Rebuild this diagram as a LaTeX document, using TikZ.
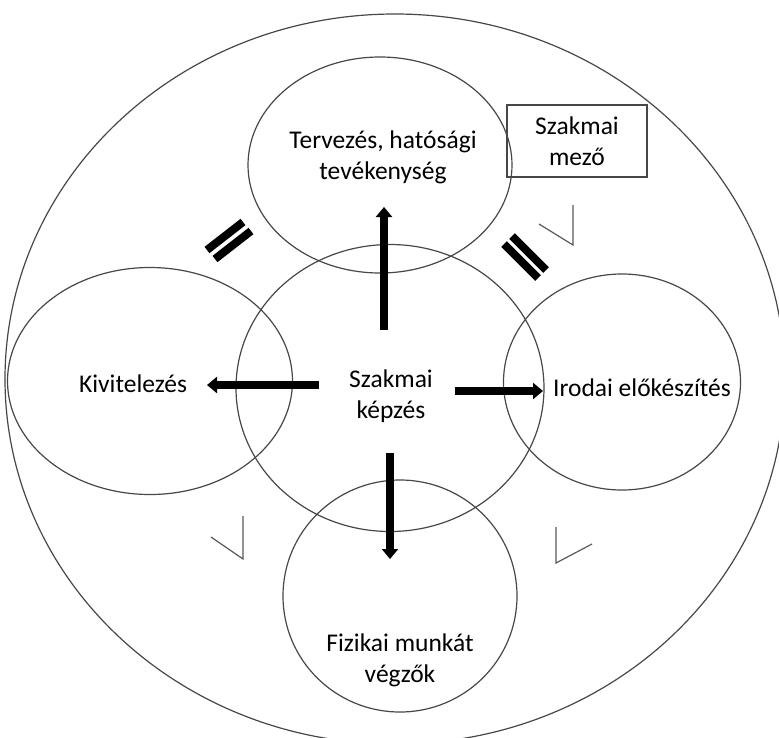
\documentclass[tikz,border=0pt]{standalone}
\usepackage{fontspec}
\setmainfont{Carlito}
\usetikzlibrary{shapes.geometric,arrows.meta}

\tikzset{
  ring/.style={draw=black!72, line width=1.2pt, ellipse, inner sep=0pt},
  label/.style={align=center, inner sep=0pt, font=\fontsize{25.5}{31}\selectfont},
  bigarrow/.style={line width=8pt, -{Triangle[width=16pt,length=10pt]}},
  bar/.style={line width=8pt, line cap=butt},
  tick/.style={draw=black!65, line width=1.2pt},
}

\begin{document}
\begin{tikzpicture}[x=1pt, y=-1pt]
  \useasboundingbox (0,0) rectangle (779,737);

  % outer field
  \node[ring, minimum width=780pt, minimum height=730pt] (field) at (395,379) {};

  % the five areas
  \node[ring, minimum width=264pt, minimum height=216pt] (plan)   at (380,165) {};
  \node[ring, minimum width=308pt, minimum height=287pt] (train)  at (390,388) {};
  \node[ring, minimum width=285pt, minimum height=227pt] (build)  at (150,381) {};
  \node[ring, minimum width=237pt, minimum height=216pt] (office) at (622,382) {};
  \node[ring, minimum width=234pt, minimum height=232pt] (manual) at (400,596) {};

  % texts
  \node[label] (tplan)   at (383,157) {Tervezés, hatósági\\tevékenység};
  \node[label] (ttrain)  at (391,396) {Szakmai\\képzés};
  \node[label] (tbuild)  at (133,384) {Kivitelezés};
  \node[label] (toffice) at (642,388) {Irodai előkészítés};
  \node[label] (tmanual) at (400,660) {Fizikai munkát\\végzők};

  % field label box
  \node[draw=black!72, line width=1.2pt, minimum width=140pt, minimum height=72pt,
        label] (box) at (577,141) {Szakmai\\mező};

  % arrows from the training area
  \coordinate (upS) at (384,330);   \coordinate (upE) at (384,207);
  \coordinate (dnS) at (390,453);   \coordinate (dnE) at (390,559);
  \coordinate (lfS) at (319,385);   \coordinate (lfE) at (207,385);
  \coordinate (rtS) at (455,391);   \coordinate (rtE) at (543,391);
  \draw[bigarrow] (upS) -- (upE);
  \draw[bigarrow] (dnS) -- (dnE);
  \draw[bigarrow] (lfS) -- (lfE);
  \draw[bigarrow] (rtS) -- (rtE);

  % parallel bars
  \draw[bar] (207,250) -- (243,222);
  \draw[bar] (215,259) -- (251,231);
  \draw[bar] (504,244) -- (538,278);
  \draw[bar] (512,236) -- (546,270);

  % small angle marks
  \draw[tick] (539,224) -- (573,245) -- (573,205);
  \draw[tick] (211,537) -- (243,559) -- (243,516);
  \draw[tick] (592,544) -- (556,563) -- (556,527);
\end{tikzpicture}
\end{document}
